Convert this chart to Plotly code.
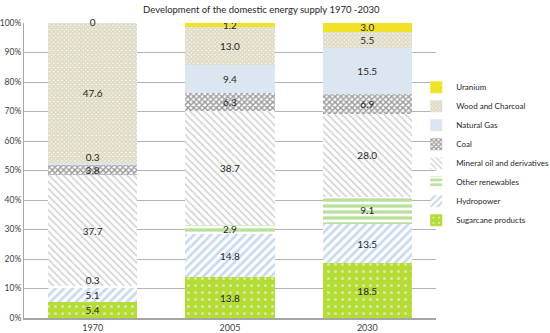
import plotly.graph_objects as go
import numpy as np

years = ["1970", "2005", "2030"]
series_names = ["Sugarcane products", "Hydropower", "Other renewables",
                "Mineral oil and derivatives", "Coal", "Natural Gas",
                "Wood and Charcoal", "Uranium"]
sugarcane = [5.4, 13.8, 18.5]
hydropower = [5.1, 14.8, 13.5]
other_renew = [0.3, 2.9, 9.1]
mineral_oil = [37.7, 38.7, 28.0]
coal = [3.8, 6.3, 6.9]
natural_gas = [0.3, 9.4, 15.5]
wood = [47.6, 13.0, 5.5]
uranium = [0.0, 1.2, 3.0]
y_ticks = [0, 10, 20, 30, 40, 50, 60, 70, 80, 90, 100]
y_tick_labels = ["0%", "10%", "20%", "30%", "40%", "50%", "60%", "70%", "80%", "90%", "100%"]

values = [sugarcane, hydropower, other_renew, mineral_oil, coal, natural_gas, wood, uranium]
styles = [
    dict(bg="#b4db36", fg="#ffffff", shape=".", size=7, sol=0.15),
    dict(bg="#ffffff", fg="#8eb4e3", shape="/", size=6, sol=0.45),
    dict(bg="#ffffff", fg="#74c236", shape="-", size=6, sol=0.55),
    dict(bg="#ffffff", fg="#a0a0a0", shape="\\", size=5, sol=0.3),
    dict(bg="#ffffff", fg="#333333", shape="x", size=4, sol=0.6),
    dict(bg="#dce6f1", fg="#dce6f1", shape="", size=6, sol=0.3),
    dict(bg="#ffffff", fg="#bdb58a", shape="x", size=3, sol=0.85),
    dict(bg="#f0e228", fg="#f0e228", shape="", size=6, sol=0.3),
]

fig = go.Figure()
for name, vals, st in zip(series_names, values, styles):
    fig.add_trace(go.Bar(
        name=name, x=years, y=vals,
        text=[f"{v:.1f}" if v >= 1 else "" for v in vals],
        textposition="inside", insidetextanchor="middle",
        textfont=dict(size=10, color="#262626"),
        marker=dict(color=st["bg"], line=dict(width=0),
                    pattern=dict(shape=st["shape"], fgcolor=st["fg"], bgcolor=st["bg"],
                                 size=st["size"], solidity=st["sol"], fillmode="overlay")),
        hoverinfo="skip",
    ))

# labels for very thin / zero segments, placed at the (normalised) segment centre
arr = np.array(values)
totals = arr.sum(axis=0)
cum = np.cumsum(arr, axis=0) / totals * 100
mid = (cum - arr / totals * 50)
lx, ly, lt, lp = [], [], [], []
for i, vals in enumerate(values):
    for j, v in enumerate(vals):
        if v < 1:
            lx.append(years[j])
            ly.append(mid[i, j])
            lt.append("0" if v == 0 else f"{v:.1f}")
            lp.append("middle center" if v == 0 else "top center")
fig.add_trace(go.Scatter(
    x=lx, y=ly, mode="text", text=lt, textposition=lp,
    textfont=dict(size=10, color="#262626"),
    showlegend=False, hoverinfo="skip", cliponaxis=False,
))

fig.update_layout(
    barmode="stack",
    barnorm="percent",
    bargap=0.35,
    width=550, height=333,
    margin=dict(l=24, r=114, t=23, b=15, autoexpand=False),
    paper_bgcolor="white", plot_bgcolor="white",
    font=dict(family="Lato, Open Sans, sans-serif", size=9, color="#404040"),
    title=dict(text="Development of the domestic energy supply 1970 -2030",
               x=0.475, xanchor="center", y=0.98, yanchor="top",
               font=dict(size=9.5, color="#262626")),
    uniformtext=dict(minsize=10, mode="show"),
    legend=dict(traceorder="reversed", x=0.952, xanchor="left", y=0.831, yanchor="top",
                font=dict(size=8, color="#262626"), itemwidth=30, bgcolor="rgba(0,0,0,0)"),
    showlegend=True,
)
fig.update_yaxes(range=[0, 100], tickvals=y_ticks, ticktext=y_tick_labels,
                 automargin=False,
                 showgrid=True, gridcolor="#b3b3b3", gridwidth=1,
                 showline=True, linecolor="#a6a6a6", ticks="", zeroline=False,
                 tickfont=dict(size=8.5, color="#404040"))
fig.update_xaxes(showline=True, linecolor="#a6a6a6", linewidth=2, ticks="",
                 automargin=False,
                 tickfont=dict(size=9, color="#404040"))

fig.write_html("out.html", config={"displayModeBar": False},
               post_script="document.body.style.margin='0';")
